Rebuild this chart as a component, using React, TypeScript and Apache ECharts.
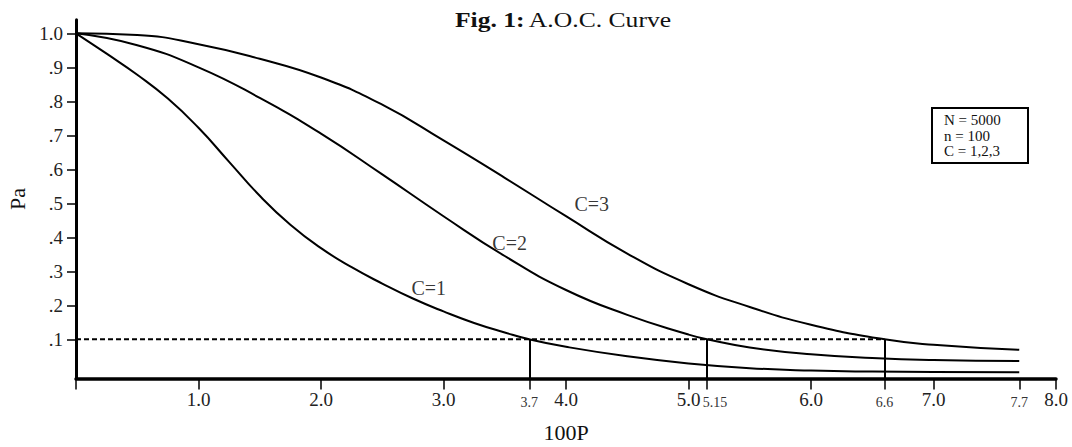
import React, { useEffect, useRef } from 'react';
import * as echarts from 'echarts';

const FONT = '"Liberation Serif", "Times New Roman", Times, serif';

// Curve C=1
const c1X = [0, 0.25, 0.5, 0.75, 1.0, 1.25, 1.5, 1.75, 2.0, 2.25, 2.5, 2.75, 3.0, 3.25, 3.5, 3.7, 4.0, 4.5, 5.0, 5.5, 6.0, 6.5, 7.0, 7.7];
const c1Pa = [1.0, 0.94, 0.878, 0.808, 0.722, 0.622, 0.522, 0.437, 0.368, 0.312, 0.264, 0.22, 0.182, 0.148, 0.12, 0.1, 0.078, 0.05, 0.029, 0.015, 0.008, 0.005, 0.004, 0.003];
// Curve C=2
const c2X = [0, 0.5, 1.0, 1.5, 2.0, 2.5, 3.0, 3.5, 4.0, 4.5, 5.0, 5.15, 5.5, 6.0, 6.5, 7.0, 7.7];
const c2Pa = [1.0, 0.965, 0.9, 0.81, 0.705, 0.585, 0.462, 0.345, 0.245, 0.172, 0.114, 0.1, 0.076, 0.056, 0.045, 0.039, 0.036];
// Curve C=3
const c3X = [0, 0.5, 1.0, 1.5, 2.0, 2.5, 3.0, 3.5, 4.0, 4.5, 5.0, 5.5, 6.0, 6.6, 7.0, 7.7];
const c3Pa = [1.0, 0.995, 0.968, 0.925, 0.87, 0.79, 0.685, 0.575, 0.462, 0.352, 0.262, 0.195, 0.143, 0.1, 0.084, 0.069];

const curveNames = ['C=1', 'C=2', 'C=3'];
const curveLabelX = [2.88, 3.54, 4.21];
const curveLabelPa = [0.252, 0.383, 0.498];

const criticalPa = 0.1;
const dropX = [3.7, 5.15, 6.6];
const thresholdEndX = 6.6;

const majorXTicks = [1, 2, 3, 4, 5, 6, 7, 8];
const minorXTicks = [3.7, 5.15, 6.6, 7.7];
const yTicks = [0.1, 0.2, 0.3, 0.4, 0.5, 0.6, 0.7, 0.8, 0.9, 1.0];

const boxLines = ['N = 5000', 'n = 100', 'C = 1,2,3'];
const titleBold = 'Fig. 1:';
const titleRest = 'A.O.C. Curve';
const xName = '100P';
const yName = 'Pa';

const Y_MIN = -0.015;
const Y_MAX = 1.04;

function zip(xs: number[], ys: number[]) {
  return xs.map((x, i) => [x, ys[i]]);
}

export default function App() {
  const ref = useRef<HTMLDivElement>(null);
  useEffect(() => {
    if (!ref.current) return;
    const chart = echarts.init(ref.current, undefined, { renderer: 'svg' });
    const curveSeries = [zip(c1X, c1Pa), zip(c2X, c2Pa), zip(c3X, c3Pa)].map((d, i) => ({
      type: 'line',
      name: curveNames[i],
      data: d,
      smooth: 0.5,
      symbol: 'none',
      lineStyle: { color: '#000', width: 2 },
      z: 3,
    }));
    const allXTicks = [0, ...majorXTicks, ...minorXTicks].sort((a, b) => a - b);
    const allXLabels = [...majorXTicks, ...minorXTicks].sort((a, b) => a - b);
    const option: any = {
      animation: false,
      backgroundColor: '#fff',
      grid: {
        left: 76,
        right: 16,
        top: 19.7,
        bottom: 68.6,
        containLabel: false,
        outerBoundsMode: 'none',
      },
      xAxis: {
        type: 'value',
        min: 0,
        max: 8,
        name: xName,
        nameLocation: 'middle',
        nameGap: 43,
        nameTextStyle: { fontFamily: FONT, fontSize: 22, color: '#111' },
        axisLine: { onZero: false, lineStyle: { color: '#000', width: 3.5 } },
        axisTick: {
          customValues: allXTicks,
          length: 11,
          lineStyle: { color: '#000', width: 1.5 },
        },
        axisLabel: {
          customValues: allXLabels,
          margin: 12,
          color: '#222',
          fontFamily: FONT,
          formatter: (v: number) => {
            if (minorXTicks.some((m) => Math.abs(m - v) < 1e-6)) {
              return Math.abs(v - 5.15) < 1e-6 ? `{sp|${v}}` : `{s|${v}}`;
            }
            return `{m|${v.toFixed(1)}}`;
          },
          rich: {
            m: { fontFamily: FONT, fontSize: 19, color: '#222' },
            s: { fontFamily: FONT, fontSize: 14, color: '#333', padding: [5, 0, 0, 0] },
            sp: { fontFamily: FONT, fontSize: 14, color: '#333', padding: [5, 0, 0, 16] },
          },
        },
        splitLine: { show: false },
      },
      yAxis: {
        type: 'value',
        min: Y_MIN,
        max: Y_MAX,
        name: yName,
        nameLocation: 'middle',
        nameGap: 46,
        nameRotate: 90,
        nameTextStyle: { fontFamily: FONT, fontSize: 22, color: '#111' },
        axisLine: { show: true, onZero: false, lineStyle: { color: '#000', width: 3 } },
        axisTick: {
          show: true,
          customValues: yTicks,
          length: 9,
          lineStyle: { color: '#000', width: 1.5 },
        },
        axisLabel: {
          customValues: yTicks,
          margin: 13,
          fontFamily: FONT,
          fontSize: 19,
          color: '#222',
          formatter: (v: number) => (v >= 0.999 ? '1.0' : v.toFixed(1).replace(/^0/, '')),
        },
        splitLine: { show: false },
      },
      series: [
        ...curveSeries,
        {
          type: 'line',
          name: 'threshold',
          data: [
            [0, criticalPa],
            [thresholdEndX, criticalPa],
          ],
          symbol: 'none',
          lineStyle: { color: '#000', width: 2, type: [5, 3] },
          z: 2,
          markLine: {
            silent: true,
            symbol: ['none', 'none'],
            label: { show: false },
            lineStyle: { type: 'solid', color: '#000', width: 2 },
            data: dropX.map((x) => [
              { coord: [x, Y_MIN] },
              { coord: [x, criticalPa] },
            ]),
          },
        },
        {
          type: 'scatter',
          name: 'labels',
          symbolSize: 0,
          data: curveNames.map((n, i) => ({ name: n, value: [curveLabelX[i], curveLabelPa[i]] })),
          label: {
            show: true,
            position: 'inside',
            formatter: '{b}',
            fontFamily: FONT,
            fontSize: 20,
            color: '#000',
          },
          z: 4,
        },
      ],
      graphic: [
        {
          type: 'text',
          x: 563,
          y: 20,
          scaleX: 1.28,
          style: {
            text: `{b|${titleBold}} {n|${titleRest}}`,
            align: 'center',
            verticalAlign: 'middle',
            rich: {
              b: { fontFamily: FONT, fontSize: 20, fontWeight: 'bold', fill: '#111' },
              n: { fontFamily: FONT, fontSize: 20, fill: '#111' },
            },
          },
        },
        {
          type: 'group',
          x: 932,
          y: 108,
          children: [
            {
              type: 'rect',
              shape: { x: 0, y: 0, width: 96, height: 55 },
              style: { fill: '#fff', stroke: '#000', lineWidth: 2 },
            },
            ...boxLines.map((t, i) => ({
              type: 'text',
              x: 12,
              y: 12 + i * 15.5,
              style: {
                text: t,
                fontFamily: FONT,
                fontSize: 15,
                fill: '#111',
                verticalAlign: 'middle',
              },
            })),
          ],
        },
      ],
    };
    chart.setOption(option);
    return () => chart.dispose();
  }, []);
  return (
    <div
      ref={ref}
      style={{ position: 'fixed', left: 0, top: 0, width: 1072, height: 447 }}
    />
  );
}
